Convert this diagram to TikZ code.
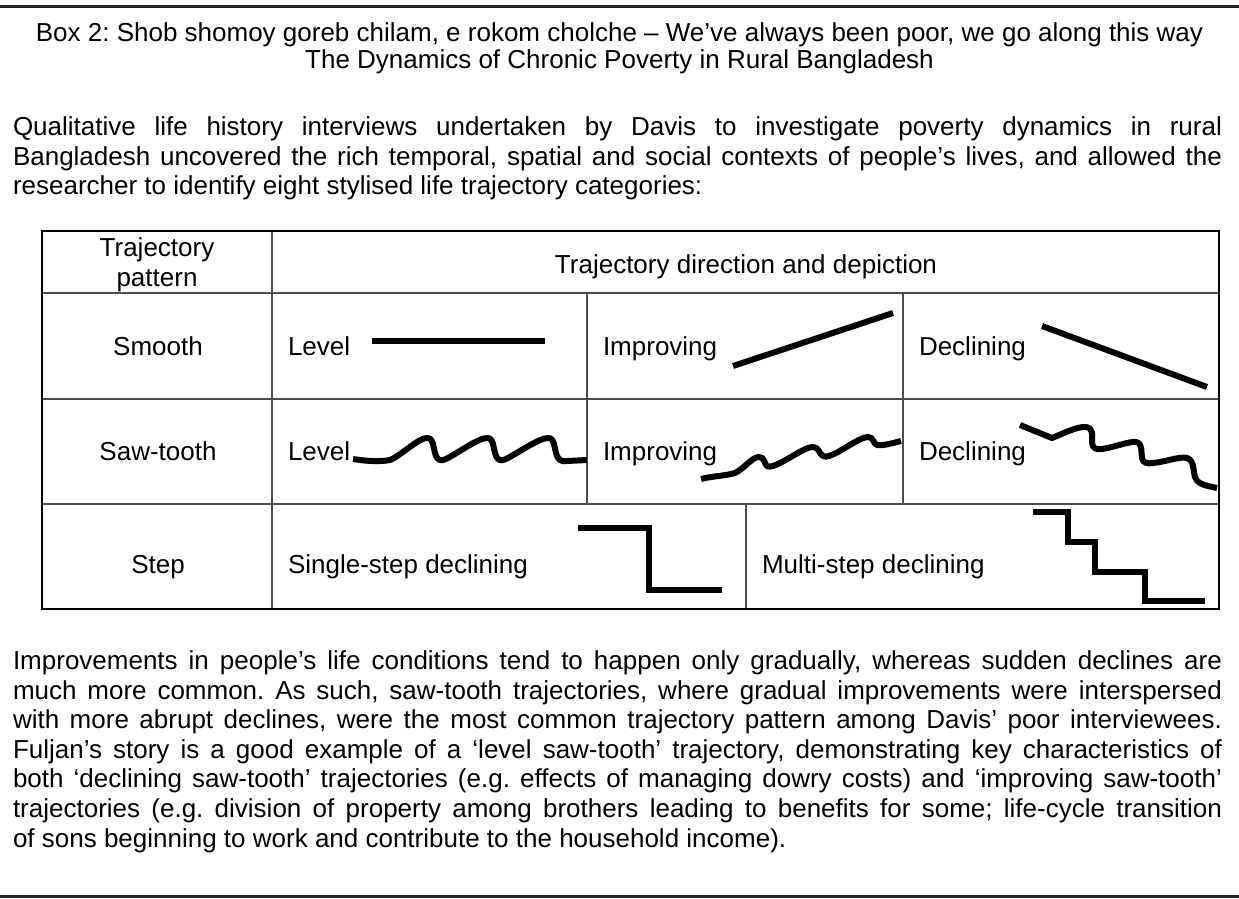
\documentclass[tikz,border=0pt]{standalone}
\usepackage{fontspec}
\setmainfont{Liberation Sans}
\begin{document}
\frenchspacing
\begin{tikzpicture}[x=1pt,y=-1pt,
  every node/.style={inner sep=0pt,outer sep=0pt,font=\fontsize{26}{29.7}\selectfont},
  rulestyle/.style={line width=3pt,black!85},
  tbl/.style={line width=1.4pt,black!70},
  tbout/.style={line width=1.6pt,black},
  traj/.style={line width=6pt,line cap=butt,line join=round},
  stairs/.style={line width=6pt,line cap=butt,line join=miter},
  cellc/.style={anchor=base},
  celll/.style={anchor=base west}]
\useasboundingbox (0,0) rectangle (1239,899);
% rules
\draw[rulestyle] (0,6.5) -- (1239,6.5);
\draw[rulestyle] (0,896.5) -- (1239,896.5);
% title
\node[cellc] (t1) at (619.5,42) {Box 2: Shob shomoy goreb chilam, e rokom cholche – We’ve always been poor, we go along this way};
\node[cellc] (t2) at (619.5,68) {The Dynamics of Chronic Poverty in Rural Bangladesh};
% paragraph 1
\node[celll] (p1a) at (13,135) {\makebox[1209pt][s]{Qualitative life history interviews undertaken by Davis to investigate poverty dynamics in rural}};
\node[celll] (p1b) at (13,165) {\makebox[1209pt][s]{Bangladesh uncovered the rich temporal, spatial and social contexts of people’s lives, and allowed the}};
\node[celll] (p1c) at (13,194) {researcher to identify eight stylised life trajectory categories:};
% table grid
\draw[tbl] (42,293) -- (1219,293);
\draw[tbl] (42,399) -- (1219,399);
\draw[tbl] (42,504) -- (1219,504);
\draw[tbl] (272,231) -- (272,609);
\draw[tbl] (587,293) -- (587,504);
\draw[tbl] (903,293) -- (903,504);
\draw[tbl] (746,504) -- (746,609);
\draw[tbout] (42,231) rectangle (1219,609);
% table texts
\node[cellc] (h1a) at (157,256) {Trajectory};
\node[cellc] (h1b) at (157,286) {pattern};
\node[cellc] (h2) at (746,273) {Trajectory direction and depiction};
\node[cellc] (r1) at (158,355) {Smooth};
\node[cellc] (r2) at (158,460) {Saw-tooth};
\node[cellc] (r3) at (158,573) {Step};
\node[celll] (c11) at (288,355) {Level};
\node[celll] (c12) at (603,355) {Improving};
\node[celll] (c13) at (919,355) {Declining};
\node[celll] (c21) at (288,460) {Level};
\node[celll] (c22) at (603,460) {Improving};
\node[celll] (c23) at (919,460) {Declining};
\node[celll] (c31) at (288,573) {Single-step declining};
\node[celll] (c32) at (762,573) {Multi-step declining};
% smooth trajectories
\draw[traj] (372,341) -- (545,341);
\draw[traj] (733,366) -- (893,313);
\draw[traj] (1042,326) -- (1207,387);
% saw-tooth: level
\draw[traj] (353,459) .. controls (365,461) and (380,462) .. (390,460)
  .. controls (402,455) and (418,438) .. (427,438)
  .. controls (434,438) and (433,447) .. (435,453)
  .. controls (437,460) and (440,462) .. (446,459)
  .. controls (458,453) and (478,438) .. (487,438)
  .. controls (494,438) and (493,447) .. (495,453)
  .. controls (497,460) and (500,462) .. (506,459)
  .. controls (518,453) and (539,438) .. (548,438)
  .. controls (555,438) and (554,447) .. (556,453)
  .. controls (558,460) and (561,462) .. (567,461)
  -- (587,460);
% saw-tooth: improving
\draw[traj] (701,479) .. controls (712,476) and (725,476) .. (735,473)
  .. controls (745,468) and (752,457) .. (759,457)
  .. controls (765,457) and (764,464) .. (767,466)
  .. controls (770,468) and (776,465) .. (782,462)
  .. controls (795,455) and (806,447) .. (813,447)
  .. controls (819,447) and (819,454) .. (823,456)
  .. controls (826,458) and (832,455) .. (838,452)
  .. controls (850,445) and (862,437) .. (868,437)
  .. controls (874,437) and (873,444) .. (877,445)
  .. controls (883,446) and (893,443) .. (901,441);
% saw-tooth: declining
\draw[traj] (1020,425) -- (1052,438)
  .. controls (1062,434) and (1078,426) .. (1086,427)
  .. controls (1094,428) and (1092,437) .. (1092,442)
  .. controls (1092,448) and (1096,450) .. (1102,449)
  .. controls (1115,447) and (1130,441) .. (1136,442)
  .. controls (1143,443) and (1141,453) .. (1142,458)
  .. controls (1143,463) and (1147,464) .. (1153,463)
  .. controls (1165,462) and (1180,456) .. (1187,458)
  .. controls (1194,460) and (1193,470) .. (1195,477)
  .. controls (1197,483) and (1202,485) .. (1217,488);
% step trajectories
\draw[stairs] (578,528) -- (649,528) -- (649,590) -- (722,590);
\draw[stairs] (1033,512) -- (1068,512) -- (1068,542) -- (1095,542) -- (1095,572) -- (1145,572) -- (1145,601) -- (1205,601);
% paragraph 2
\node[celll] (p2a) at (13,669) {\makebox[1209pt][s]{Improvements in people’s life conditions tend to happen only gradually, whereas sudden declines are}};
\node[celll] (p2b) at (13,699) {\makebox[1209pt][s]{much more common. As such, saw-tooth trajectories, where gradual improvements were interspersed}};
\node[celll] (p2c) at (13,728) {\makebox[1209pt][s]{with more abrupt declines, were the most common trajectory pattern among Davis’ poor interviewees.}};
\node[celll] (p2d) at (13,758) {\makebox[1209pt][s]{Fuljan’s story is a good example of a ‘level saw-tooth’ trajectory, demonstrating key characteristics of}};
\node[celll] (p2e) at (13,787) {\makebox[1209pt][s]{both ‘declining saw-tooth’ trajectories (e.g. effects of managing dowry costs) and ‘improving saw-tooth’}};
\node[celll] (p2f) at (13,817) {\makebox[1209pt][s]{trajectories (e.g. division of property among brothers leading to benefits for some; life-cycle transition}};
\node[celll] (p2g) at (13,847) {of sons beginning to work and contribute to the household income).};
\end{tikzpicture}
\end{document}
